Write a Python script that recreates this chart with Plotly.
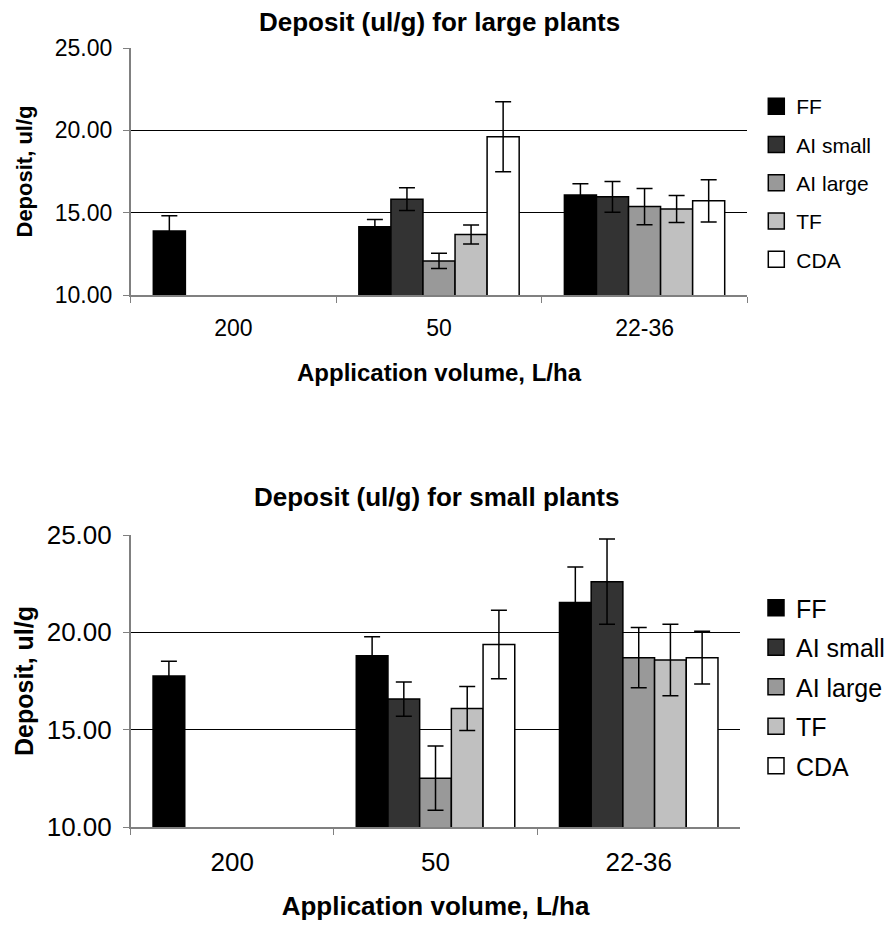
import plotly.graph_objects as go

categories = ["200", "50", "22-36"]
series_names = ["FF", "AI small", "AI large", "TF", "CDA"]
series_colors = ["#000000", "#333333", "#999999", "#C0C0C0", "#FFFFFF"]

# Large plants: deposit (ul/g) and error (+/-)
large_ff = [13.89, 14.14, 16.08]
large_ff_err = [0.93, 0.44, 0.67]
large_ai_small = [None, 15.82, 15.96]
large_ai_small_err = [None, 0.69, 0.93]
large_ai_large = [None, 12.07, 15.37]
large_ai_large_err = [None, 0.46, 1.10]
large_tf = [None, 13.67, 15.23]
large_tf_err = [None, 0.58, 0.82]
large_cda = [None, 19.61, 15.72]
large_cda_err = [None, 2.13, 1.28]

# Small plants
small_ff = [17.76, 18.80, 21.53]
small_ff_err = [0.75, 0.97, 1.82]
small_ai_small = [None, 16.57, 22.60]
small_ai_small_err = [None, 0.88, 2.19]
small_ai_large = [None, 12.51, 18.70]
small_ai_large_err = [None, 1.65, 1.55]
small_tf = [None, 16.09, 18.58]
small_tf_err = [None, 1.13, 1.84]
small_cda = [None, 19.37, 18.70]
small_cda_err = [None, 1.76, 1.36]

y_ticks = [10, 15, 20, 25]

large_vals = [large_ff, large_ai_small, large_ai_large, large_tf, large_cda]
large_errs = [large_ff_err, large_ai_small_err, large_ai_large_err, large_tf_err, large_cda_err]
small_vals = [small_ff, small_ai_small, small_ai_large, small_tf, small_cda]
small_errs = [small_ff_err, small_ai_small_err, small_ai_large_err, small_tf_err, small_cda_err]

FONT = "Liberation Sans, Arial, sans-serif"
W, H = 890, 927

fig = go.Figure()


def add_panel(vals, errs, xa, ya, leg, grp):
    for i, name in enumerate(series_names):
        fig.add_trace(go.Bar(
            x=categories, y=vals[i], name=name, showlegend=False,
            marker=dict(color=series_colors[i], line=dict(color="black", width=1.5)),
            error_y=dict(type="data", array=errs[i], visible=True,
                         color="black", thickness=1.5, width=8),
            xaxis=xa, yaxis=ya, legendgroup=grp + str(i),
        ))
    # legend keys (square swatches) for the same series
    for i, name in enumerate(series_names):
        fig.add_trace(go.Scatter(
            x=[None], y=[None], name=name, mode="markers",
            marker=dict(symbol="square", size=16, color=series_colors[i],
                        line=dict(color="black", width=1.5)),
            xaxis=xa, yaxis=ya, legend=leg, legendgroup=grp + str(i),
            hoverinfo="skip",
        ))


add_panel(large_vals, large_errs, "x", "y", "legend", "a")
add_panel(small_vals, small_errs, "x2", "y2", "legend2", "b")


def px_x(v):
    return v / W


def px_y(v):
    return 1 - v / H


def axis_style(size):
    return dict(
        showline=True, linecolor="#808080", linewidth=1.5,
        ticks="outside", ticklen=6, tickcolor="#808080",
        tickfont=dict(family=FONT, size=size, color="black"),
        automargin=False, zeroline=False,
    )


fig.update_layout(
    template="none",
    width=W, height=H,
    margin=dict(l=0, r=0, t=0, b=0, pad=0),
    paper_bgcolor="white", plot_bgcolor="white",
    barmode="group", bargap=0.22, bargroupgap=0,
    font=dict(family=FONT, color="black"),
    xaxis=dict(
        domain=[px_x(131), px_x(749)], anchor="y", type="category",
        tickson="boundaries", showgrid=False, ticklabelstandoff=12,
        title=dict(text="<b>Application volume, L/ha</b>", font=dict(size=24), standoff=24),
        **axis_style(23),
    ),
    yaxis=dict(
        domain=[px_y(295), px_y(48)], anchor="x", range=[10, 25],
        tickvals=y_ticks, tickformat=".2f", ticklabelstandoff=6,
        showgrid=True, gridcolor="black", gridwidth=1,
        title=dict(text="<b>Deposit, ul/g</b>", font=dict(size=22), standoff=16),
        **axis_style(23),
    ),
    xaxis2=dict(
        domain=[px_x(131), px_x(742)], anchor="y2", type="category",
        tickson="boundaries", showgrid=False, ticklabelstandoff=11,
        title=dict(text="<b>Application volume, L/ha</b>", font=dict(size=26), standoff=21),
        **axis_style(26),
    ),
    yaxis2=dict(
        domain=[px_y(827), px_y(535)], anchor="x2", range=[10, 25],
        tickvals=y_ticks, tickformat=".2f", ticklabelstandoff=6,
        showgrid=True, gridcolor="black", gridwidth=1,
        title=dict(text="<b>Deposit, ul/g</b>", font=dict(size=25), standoff=6),
        **axis_style(26),
    ),
    legend=dict(
        x=px_x(758), y=px_y(86), xanchor="left", yanchor="top",
        font=dict(family=FONT, size=21, color="black"),
        tracegroupgap=8, itemwidth=30, bgcolor="rgba(0,0,0,0)", borderwidth=0,
    ),
    legend2=dict(
        x=px_x(758), y=px_y(585), xanchor="left", yanchor="top",
        font=dict(family=FONT, size=25, color="black"),
        tracegroupgap=4, itemwidth=30, bgcolor="rgba(0,0,0,0)", borderwidth=0,
    ),
    annotations=[
        dict(text="<b>Deposit (ul/g) for large plants</b>", x=px_x(440), y=px_y(22),
             xref="paper", yref="paper", showarrow=False,
             xanchor="center", yanchor="middle",
             font=dict(family=FONT, size=26, color="black")),
        dict(text="<b>Deposit (ul/g) for small plants</b>", x=px_x(437), y=px_y(497),
             xref="paper", yref="paper", showarrow=False,
             xanchor="center", yanchor="middle",
             font=dict(family=FONT, size=26, color="black")),
    ],
)

fig.write_html("out.html")
